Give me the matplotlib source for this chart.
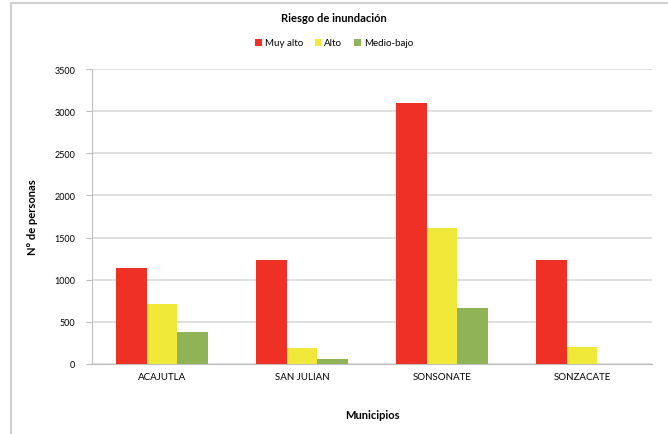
import numpy as np
import matplotlib
matplotlib.use('Agg')
import matplotlib.pyplot as plt
from matplotlib.lines import Line2D

municipios = ['ACAJUTLA', 'SAN JULIAN', 'SONSONATE', 'SONZACATE']
muy_alto = [1135, 1235, 3095, 1235]
alto = [715, 185, 1615, 205]
medio_bajo = [380, 65, 670, 0]

series = [('Muy alto', muy_alto, '#ee3124'),
          ('Alto', alto, '#f0e93a'),
          ('Medio-bajo', medio_bajo, '#8fb356')]

plt.rcParams['font.family'] = ['Lato', 'DejaVu Sans']

fig = plt.figure(figsize=(6.68, 4.35), dpi=100, facecolor='white')
ax = fig.add_axes([92 / 668, 1 - 365 / 435, 560 / 668, 295 / 435])

x = np.arange(len(municipios))
w = 0.22
for i, (name, vals, col) in enumerate(series):
    ax.bar(x + (i - 1) * w, vals, w, color=col, label=name, zorder=3)

ax.set_xlim(-0.5, len(municipios) - 0.5)
ax.set_ylim(0, 3500)
ax.set_yticks(range(0, 3501, 500))
ax.yaxis.grid(True, color='#d9d9d9', linewidth=1.2, zorder=0)
ax.set_xticks(x)
ax.set_xticklabels(municipios, fontsize=7)
ax.tick_params(axis='y', labelsize=6.5, length=4, color='#bfbfbf', pad=8)
ax.tick_params(axis='x', length=0, pad=6)
for s in ['top', 'right']:
    ax.spines[s].set_visible(False)
ax.spines['left'].set_color('#bfbfbf')
ax.spines['bottom'].set_color('#bfbfbf')

ax.set_ylabel('N° de personas', fontsize=8, fontweight='bold', labelpad=12)
ax.set_xlabel('Municipios', fontsize=8, fontweight='bold', labelpad=20)

fig.text(0.5, 1 - 19 / 435, 'Riesgo de inundación', ha='center', va='center',
         fontsize=8, fontweight='bold')
fig.legend(loc='center', bbox_to_anchor=(0.5, 1 - 44 / 435), ncol=3, frameon=False,
           fontsize=7, handlelength=0.7, handleheight=0.7, handletextpad=0.3,
           columnspacing=1.2)

# light frame of the chart area
fig.add_artist(Line2D([11 / 668, 1], [1 - 4 / 435, 1 - 4 / 435], color='#d0d0d0', lw=1.5))
fig.add_artist(Line2D([11 / 668, 11 / 668], [0, 1 - 4 / 435], color='#d0d0d0', lw=1.5))

fig.savefig('out.png', dpi=100, facecolor='white')
